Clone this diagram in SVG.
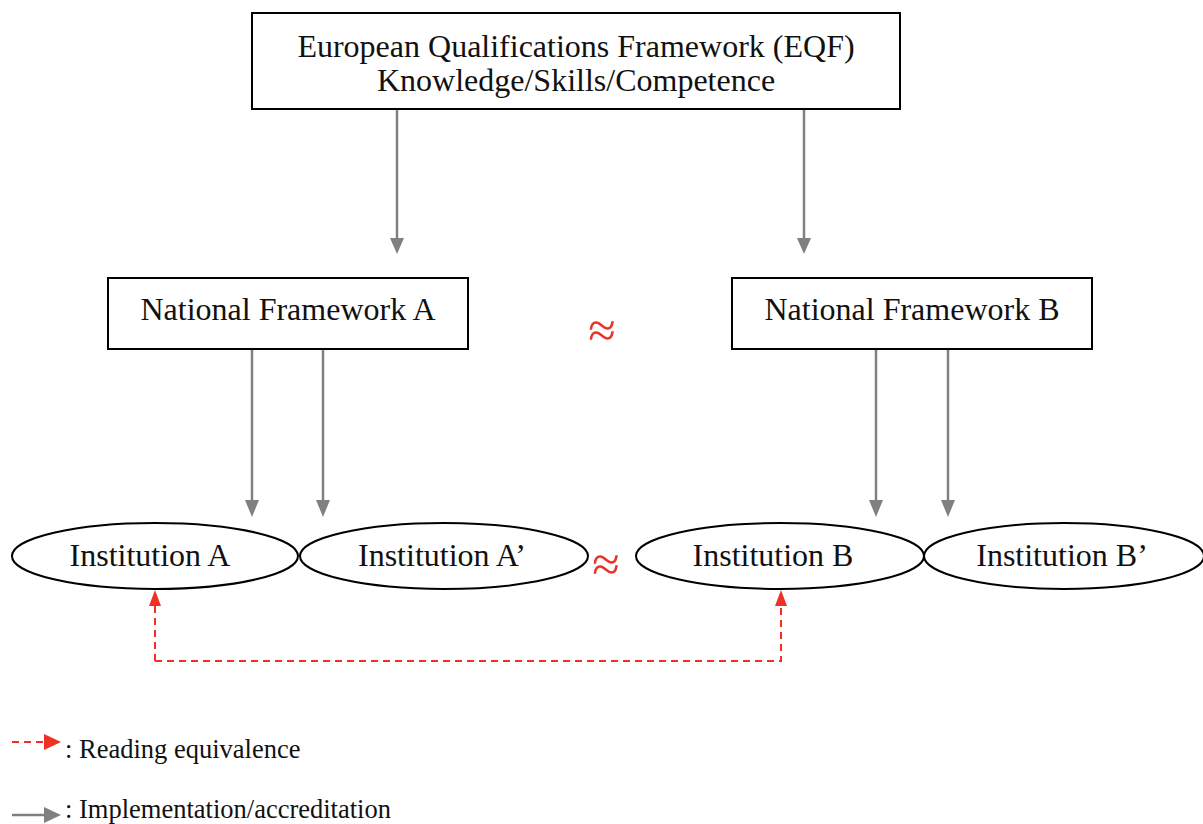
<svg xmlns="http://www.w3.org/2000/svg" width="1203" height="824" viewBox="0 0 1203 824">
<style>
text{font-family:"Liberation Serif","Times New Roman",serif;fill:#111;}
.lbl{font-size:32px;text-anchor:middle;}
.leg{font-size:26.5px;}
.box{fill:#fff;stroke:#000;stroke-width:2;}
.ell{fill:#fff;stroke:#000;stroke-width:2;}
.impl{stroke:#808080;stroke-width:2.5;fill:none;}
.gh{fill:#808080;}
.rh{fill:#ee3124;}
.eq{stroke:#ee3124;stroke-width:2;stroke-dasharray:7,5;fill:none;}
.approx{font-size:50px;fill:#ee3124;text-anchor:middle;}
</style>
<g id="connectors">
<path class="impl" d="M397,109 V240"/><path class="gh" d="M390,238 L397,254 L404,238 z"/>
<path class="impl" d="M804,109 V240"/><path class="gh" d="M797,238 L804,254 L811,238 z"/>
<path class="impl" d="M252,349 V502"/><path class="gh" d="M245,500 L252,517 L259,500 z"/>
<path class="impl" d="M323,349 V502"/><path class="gh" d="M316,500 L323,517 L330,500 z"/>
<path class="impl" d="M876,349 V502"/><path class="gh" d="M869,500 L876,517 L883,500 z"/>
<path class="impl" d="M948,349 V502"/><path class="gh" d="M941,500 L948,517 L955,500 z"/>
<path class="eq" d="M155,661 H781 V606"/>
<path class="eq" d="M155,661 V606"/>
<path class="rh" d="M149,606 L155,590 L161,606 z"/>
<path class="rh" d="M775,606 L781,590 L787,606 z"/>
</g>
<g id="eqf"><rect class="box" x="252" y="13" width="648" height="96"/>
<text class="lbl" x="576" y="57">European Qualifications Framework (EQF)</text>
<text class="lbl" x="576" y="91">Knowledge/Skills/Competence</text></g>
<g id="nfa"><rect class="box" x="108" y="278" width="360" height="71"/>
<text class="lbl" x="288" y="320">National Framework A</text></g>
<g id="nfb"><rect class="box" x="732" y="278" width="360" height="71"/>
<text class="lbl" x="912" y="320">National Framework B</text></g>
<g id="insta"><ellipse class="ell" cx="155" cy="556" rx="143" ry="33"/>
<text class="lbl" x="150" y="566">Institution A</text></g>
<g id="insta2"><ellipse class="ell" cx="444" cy="556" rx="144" ry="33"/>
<text class="lbl" x="442" y="566">Institution A’</text></g>
<g id="instb"><ellipse class="ell" cx="780" cy="556" rx="144" ry="33"/>
<text class="lbl" x="773" y="566">Institution B</text></g>
<g id="instb2"><ellipse class="ell" cx="1064" cy="556" rx="140" ry="33"/>
<text class="lbl" x="1062" y="566">Institution B’</text></g>
<text class="approx" x="602" y="347">≈</text>
<text class="approx" x="606" y="581">≈</text>
<g id="legend">
<path class="eq" d="M12,742 H46"/>
<path class="rh" d="M44,734 L61,742 L44,750 z"/>
<text class="leg" x="65" y="758">: Reading equivalence</text>
<path class="impl" d="M12,815 H46"/>
<path class="gh" d="M44,807 L61,815 L44,823 z"/>
<text class="leg" x="65" y="818">: Implementation/accreditation</text>
</g>
</svg>
